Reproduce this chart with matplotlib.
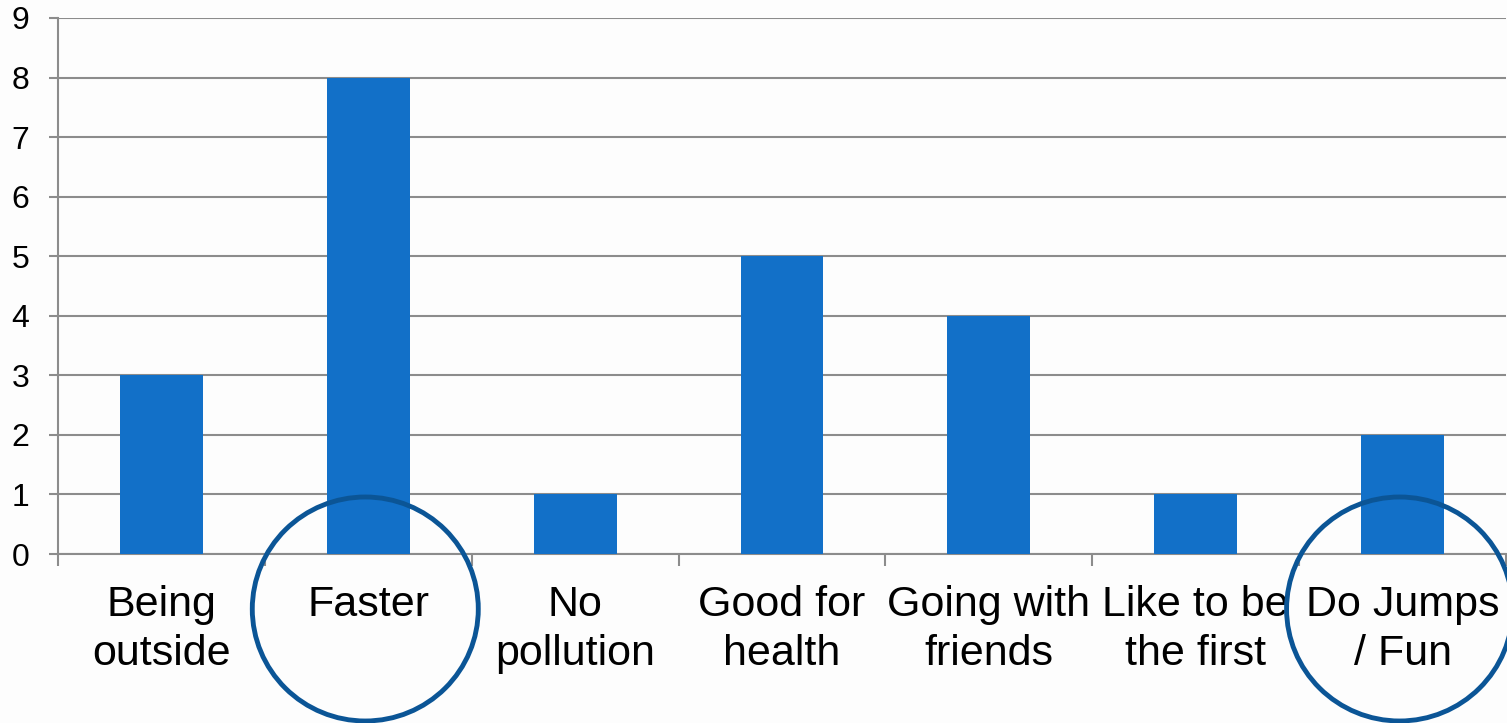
import matplotlib
matplotlib.use("Agg")
import matplotlib.pyplot as plt
from matplotlib.patches import Ellipse

categories = ["Being\noutside", "Faster", "No\npollution", "Good for\nhealth",
              "Going with\nfriends", "Like to be\nthe first", "Do Jumps\n/ Fun"]
values = [3, 8, 1, 5, 4, 1, 2]
yticks = list(range(0, 10))
circled = ["Faster", "Do Jumps\n/ Fun"]

plt.rcParams['font.family'] = ['Liberation Sans', 'DejaVu Sans']

W, H = 1507, 723
fig = plt.figure(figsize=(W / 100, H / 100), dpi=100)
fig.patch.set_facecolor('#fdfdfd')
ax = fig.add_axes([58 / W, (H - 554) / H, (1506 - 58) / W, (554 - 18) / H])
ax.set_facecolor('none')

x = list(range(len(categories)))
ax.bar(x, values, width=0.4, color='#1270C8', zorder=3)
ax.set_xlim(-0.5, len(categories) - 0.5)
ax.set_ylim(0, 9)
ax.set_yticks(yticks)
ax.set_yticklabels([str(v) for v in yticks], fontsize=23)
ax.yaxis.grid(True, color='#8C8C8C', linewidth=1.5, zorder=1)
ax.tick_params(axis='y', length=6.5, width=1.5, color='#8C8C8C', pad=14)

# category boundary ticks
ax.set_xticks([i - 0.5 for i in range(len(categories) + 1)])
ax.set_xticklabels([])
ax.tick_params(axis='x', length=8.6, width=1.5, color='#8C8C8C')
for i, c in enumerate(categories):
    ax.text(i, -0.52, c, ha='center', va='top', fontsize=31, linespacing=1.28,
            transform=ax.transData, zorder=5)

for s in ['top', 'right']:
    ax.spines[s].set_visible(False)
for s in ['left', 'bottom']:
    ax.spines[s].set_color('#8C8C8C')
    ax.spines[s].set_linewidth(1.5)

# hand-drawn circles around the highlighted labels
for c in circled:
    i = categories.index(c)
    cx_disp = ax.transData.transform((i, 0))[0]
    cx = cx_disp / W
    e = Ellipse((cx - 3 / W, (H - 609) / H), 226 / W, 224 / H, transform=fig.transFigure,
                fill=False, edgecolor='#0B5596', linewidth=3.5, zorder=10)
    fig.patches.append(e)

fig.savefig('out.png', dpi=100, facecolor=fig.get_facecolor())
